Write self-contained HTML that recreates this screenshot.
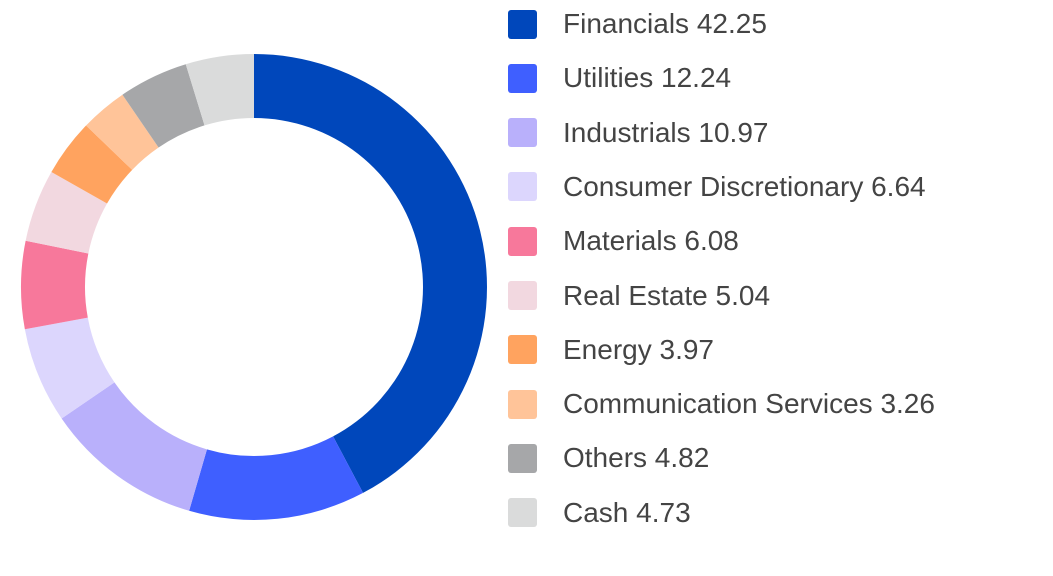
<!DOCTYPE html>
<html><head><meta charset="utf-8"><style>
body{margin:0;background:#fff;width:1053px;height:576px;overflow:hidden;font-family:"Liberation Sans",sans-serif}
.leg{position:absolute;left:508px;display:flex;align-items:center}
.sw{width:29px;height:29px;border-radius:3px;margin-right:26px}
.lt{font-size:28px;color:#444;white-space:nowrap}
</style></head><body>
<svg id="chart" width="1053" height="576" style="position:absolute;left:0;top:0"></svg>
<div id="legend"></div>
<script>
const categories=["Financials","Utilities","Industrials","Consumer Discretionary","Materials","Real Estate","Energy","Communication Services","Others","Cash"];
const values=[42.25,12.24,10.97,6.64,6.08,5.04,3.97,3.26,4.82,4.73];
const colors=["#0047bb","#3f5fff","#b9b0fb","#dcd6fd","#f7789b","#f2d8e0","#ffa35f","#ffc499","#a6a7a9","#dadbdb"];
const cx=254,cy=287,R=233,r=169;
const svg=document.getElementById('chart');
const total=values.reduce((a,b)=>a+b,0);
let a0=0;
function pt(rad,a){return [cx+rad*Math.sin(a),cy-rad*Math.cos(a)];}
values.forEach((v,i)=>{
  const a1=a0+v/total*2*Math.PI;
  const large=(a1-a0)>Math.PI?1:0;
  const p1=pt(R,a0),p2=pt(R,a1),p3=pt(r,a1),p4=pt(r,a0);
  const p=document.createElementNS('http://www.w3.org/2000/svg','path');
  p.setAttribute('d',`M${p1[0]},${p1[1]}A${R},${R} 0 ${large} 1 ${p2[0]},${p2[1]}L${p3[0]},${p3[1]}A${r},${r} 0 ${large} 0 ${p4[0]},${p4[1]}Z`);
  p.setAttribute('fill',colors[i]);
  
  
  svg.appendChild(p);
  a0=a1;
});
const lg=document.getElementById('legend');
categories.forEach((c,i)=>{
  const d=document.createElement('div');
  d.className='leg';d.style.top=(8+i*54.3)+'px';
  
  
  d.innerHTML=`<div class="sw" style="background:${colors[i]}"></div><span class="lt">${c} ${values[i].toFixed(2)}</span>`;
  lg.appendChild(d);
});
</script>
</body></html>
